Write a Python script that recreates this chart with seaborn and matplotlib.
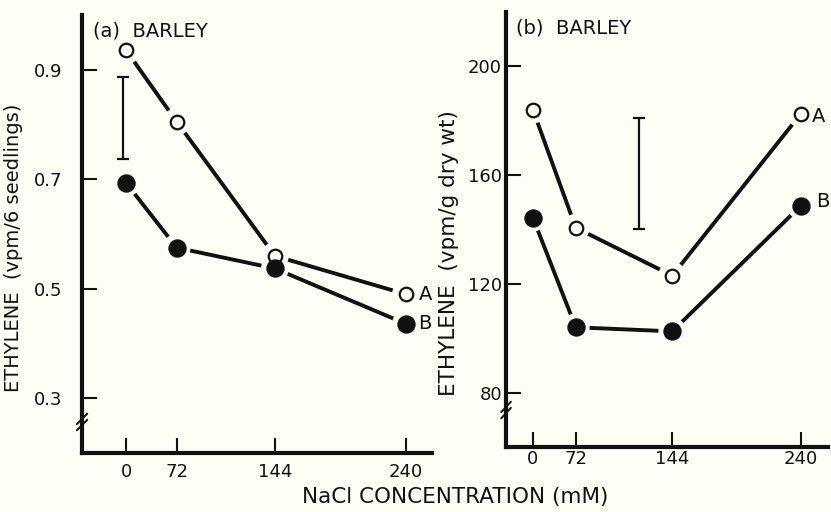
import numpy as np
import pandas as pd
import matplotlib
matplotlib.use("Agg")
import matplotlib.pyplot as plt
import seaborn as sns
from matplotlib import font_manager

# ---------------- data ----------------
nacl = [0, 72, 144, 240]
xtick_labels = ["0", "72", "144", "240"]

a_curve_A = [0.935, 0.805, 0.560, 0.490]
a_curve_B = [0.693, 0.575, 0.537, 0.436]
a_err_x = -4
a_err_lo, a_err_hi = 0.737, 0.887
a_yticks = [0.3, 0.5, 0.7, 0.9]
a_ytick_labels = ["0.3", "0.5", "0.7", "0.9"]

b_curve_A = [184, 140.6, 123, 182.5]
b_curve_B = [144.3, 104, 102.5, 148.7]
b_err_x = 119
b_err_lo, b_err_hi = 140.3, 181
b_yticks = [80, 120, 160, 200]
b_ytick_labels = ["80", "120", "160", "200"]

BG = "#fefef6"
INK = "#111111"

sns.set_theme(style="white")
plt.rcParams["font.family"] = ["DejaVu Sans"]
plt.rcParams["figure.facecolor"] = BG
plt.rcParams["axes.facecolor"] = BG

names = {f.name for f in font_manager.fontManager.ttflist}
NARROW = "Liberation Sans Narrow" if "Liberation Sans Narrow" in names else "DejaVu Sans"
TICKSIZE = 15 if NARROW != "DejaVu Sans" else 13

fig = plt.figure(figsize=(8.31, 5.12), dpi=100)
ax_a = fig.add_axes([0.0987, 0.115, 0.421, 0.856])
ax_b = fig.add_axes([0.609, 0.127, 0.387, 0.850])


def make_scale(z):
    def fwd(x):
        x = np.asarray(x, dtype=float)
        return np.where(x < 72, z + x * (72 - z) / 72.0, x)

    def inv(y):
        y = np.asarray(y, dtype=float)
        return np.where(y < 72, (y - z) * 72.0 / (72 - z), y)
    return fwd, inv


def draw_panel(ax, z, xlim, ylim, A, B, err_x, err_lo, err_hi,
               yticks, yticklabels, title, ylabel, ylab_xy, ylab_size,
               ypad, xpad, labA_dy, labB_dy, labA_dx, labB_dx):
    ax.set_xscale("function", functions=make_scale(z))
    df = pd.DataFrame({"x": nacl * 2, "y": A + B,
                       "s": ["A"] * 4 + ["B"] * 4})
    sns.lineplot(data=df, x="x", y="y", units="s", estimator=None,
                 color=INK, lw=2.8, ax=ax, zorder=1, legend=False)
    # halo to make gaps near markers
    sns.scatterplot(data=df, x="x", y="y", s=400, color=BG,
                    edgecolor="none", ax=ax, zorder=2, legend=False)
    dA = df[df.s == "A"]
    dB = df[df.s == "B"]
    sns.scatterplot(data=dA, x="x", y="y", s=95, facecolor=BG,
                    edgecolor=INK, linewidth=1.6, ax=ax, zorder=3,
                    legend=False)
    sns.scatterplot(data=dB, x="x", y="y", s=150, color=INK,
                    edgecolor=INK, ax=ax, zorder=3, legend=False)
    ax.errorbar([err_x], [(err_lo + err_hi) / 2],
                yerr=[[(err_hi - err_lo) / 2], [(err_hi - err_lo) / 2]],
                fmt="none", ecolor=INK, elinewidth=1.6, capsize=4,
                capthick=1.6, zorder=3)
    ax.set_xlim(*xlim)
    ax.set_ylim(*ylim)
    ax.set_xticks(nacl)
    ax.set_xticklabels(xtick_labels, family=NARROW)
    ax.set_yticks(yticks)
    ax.set_yticklabels(yticklabels, family=NARROW)
    ax.minorticks_off()
    ax.tick_params(axis="both", direction="in", length=11, width=1.5,
                   color=INK, labelsize=TICKSIZE, labelcolor=INK,
                   bottom=True, left=True)
    ax.tick_params(axis="x", pad=xpad)
    ax.tick_params(axis="y", pad=ypad)
    for s in ["top", "right"]:
        ax.spines[s].set_visible(False)
    for s in ["left", "bottom"]:
        ax.spines[s].set_linewidth(3)
        ax.spines[s].set_color(INK)
    ax.set_xlabel("")
    ax.set_ylabel(ylabel, fontsize=ylab_size, color=INK)
    ax.yaxis.set_label_coords(*ylab_xy)
    ax.text(0.03, 0.985, title, transform=ax.transAxes, fontsize=14,
            color=INK, va="top", ha="left")
    # labels A / B
    ax.annotate("A", (nacl[-1], A[-1]), xytext=(labA_dx, labA_dy),
                textcoords="offset points", fontsize=14, color=INK,
                va="center", ha="left")
    ax.annotate("B", (nacl[-1], B[-1]), xytext=(labB_dx, labB_dy),
                textcoords="offset points", fontsize=14, color=INK,
                va="center", ha="left")
    ax.grid(False)


draw_panel(ax_a, 35, (-63, 259), (0.2, 1.0), a_curve_A, a_curve_B,
           a_err_x, a_err_lo, a_err_hi, a_yticks, a_ytick_labels,
           "(a)  BARLEY", "ETHYLENE  (vpm/6 seedlings)", (-0.169, 0.468), 14,
           14, 7, 0, 0, 9, 9)
draw_panel(ax_b, 40, (-45, 260), (60, 220), b_curve_A, b_curve_B,
           b_err_x, b_err_lo, b_err_hi, b_yticks, b_ytick_labels,
           "(b)  BARLEY", "ETHYLENE  (vpm/g dry wt)", (-0.146, 0.446), 15.5,
           3, 2, -2, 3, 8, 11)

# axis break marks
for ax, yb in [(ax_a, 0.064), (ax_b, 0.078)]:
    for dy in (0.0, 0.014):
        ax.plot([-0.015, 0.015], [yb + dy - 0.012, yb + dy + 0.012],
                transform=ax.transAxes, color=INK, lw=1.4, clip_on=False,
                zorder=5)

fig.text(0.548, 0.03, "NaCl CONCENTRATION (mM)", fontsize=15.5, color=INK,
         ha="center", va="center")

fig.savefig("out.png", dpi=100, facecolor=BG)
